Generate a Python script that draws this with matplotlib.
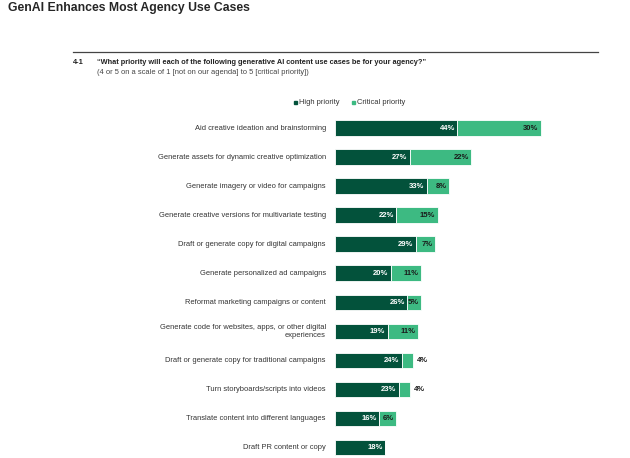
import matplotlib
matplotlib.use("Agg")
import matplotlib.pyplot as plt
from matplotlib.patches import Rectangle

categories = [
    "Aid creative ideation and brainstorming",
    "Generate assets for dynamic creative optimization",
    "Generate imagery or video for campaigns",
    "Generate creative versions for multivariate testing",
    "Draft or generate copy for digital campaigns",
    "Generate personalized ad campaigns",
    "Reformat marketing campaigns or content",
    "Generate code for websites, apps, or other digital\nexperiences",
    "Draft or generate copy for traditional campaigns",
    "Turn storyboards/scripts into videos",
    "Translate content into different languages",
    "Draft PR content or copy",
]
high = [44, 27, 33, 22, 29, 20, 26, 19, 24, 23, 16, 18]
critical = [30, 22, 8, 15, 7, 11, 5, 11, 4, 4, 6, None]
series_names = ["High priority", "Critical priority"]

DARK = "#03523B"
LIGHT = "#3DBA82"
FONT = "Liberation Sans"

W, H = 630, 458
fig = plt.figure(figsize=(W / 100, H / 100), dpi=100)

def fx(px):
    return px / W

def fy(py):
    return 1 - py / H

# Axes placement (pixels)
x0 = 335
px_per_pct = 2.78
ax_w = 100 * px_per_pct
top_px, bot_px = 113, 458
c0, c_last = 128, 447.5
step = (c_last - c0) / (len(categories) - 1)
ax = fig.add_axes([fx(x0), fy(bot_px), ax_w / W, (bot_px - top_px) / H])
ax.set_xlim(0, 100)
ax.set_ylim((bot_px - c0) / step, (top_px - c0) / step)
ax.axis("off")

ys = list(range(len(categories)))
bh = 15.5 / step
ax.barh(ys, high, height=bh, color=DARK, edgecolor="white", linewidth=0.6)
crit_vals = [c if c is not None else 0 for c in critical]
ax.barh(ys, crit_vals, left=high, height=bh, color=LIGHT, edgecolor="white", linewidth=0.6)

fs_val = 5.5
for y, h, c in zip(ys, high, critical):
    ax.text(h - 0.9, y, f"{h}%", ha="right", va="center", color="white",
            fontsize=fs_val, fontweight="bold", family=FONT)
    if c is None:
        continue
    end = h + c
    if c >= 5:
        ax.text(end - 0.9, y, f"{c}%", ha="right", va="center", color="#1a1a1a",
                fontsize=fs_val, fontweight="bold", family=FONT)
    else:
        ax.text(end + 1.3, y, f"{c}%", ha="left", va="center", color="#1a1a1a",
                fontsize=fs_val, fontweight="bold", family=FONT)

# Category labels
for y, cat in zip(ys, categories):
    ax.text(-3.3, y, cat, ha="right", va="center", color="#333333",
            fontsize=5.4, family=FONT, linespacing=1.25, clip_on=False)

# Title
fig.text(fx(8), fy(8), "GenAI Enhances Most Agency Use Cases", ha="left", va="center",
         fontsize=8.8, fontweight="bold", color="#262626", family=FONT)

# Rule line
fig.add_artist(plt.Line2D([fx(73), fx(598)], [fy(52), fy(52)], color="#444444", linewidth=0.9))

fig.text(fx(73), fy(63), "4-1", ha="left", va="center", fontsize=5.3,
         fontweight="bold", color="#222222", family=FONT)
fig.text(fx(97), fy(63),
         "\u201cWhat priority will each of the following generative AI content use cases be for your agency?\u201d",
         ha="left", va="center", fontsize=5.3, fontweight="bold", color="#222222", family=FONT)
fig.text(fx(97), fy(72.5),
         "(4 or 5 on a scale of 1 [not on our agenda] to 5 [critical priority])",
         ha="left", va="center", fontsize=5.4, color="#444444", family=FONT)

# Legend
leg_y = 103
for sx, name, col in [(295, series_names[0], DARK), (353, series_names[1], LIGHT)]:
    fig.add_artist(Rectangle((fx(sx - 1.5), fy(leg_y + 1.0)), 3 / W, 3 / H, color=col,
                             transform=fig.transFigure))
    fig.text(fx(sx + 4), fy(leg_y), name, ha="left", va="center", fontsize=5.4,
             color="#333333", family=FONT)

fig.savefig("out.png", dpi=100, facecolor="white")
